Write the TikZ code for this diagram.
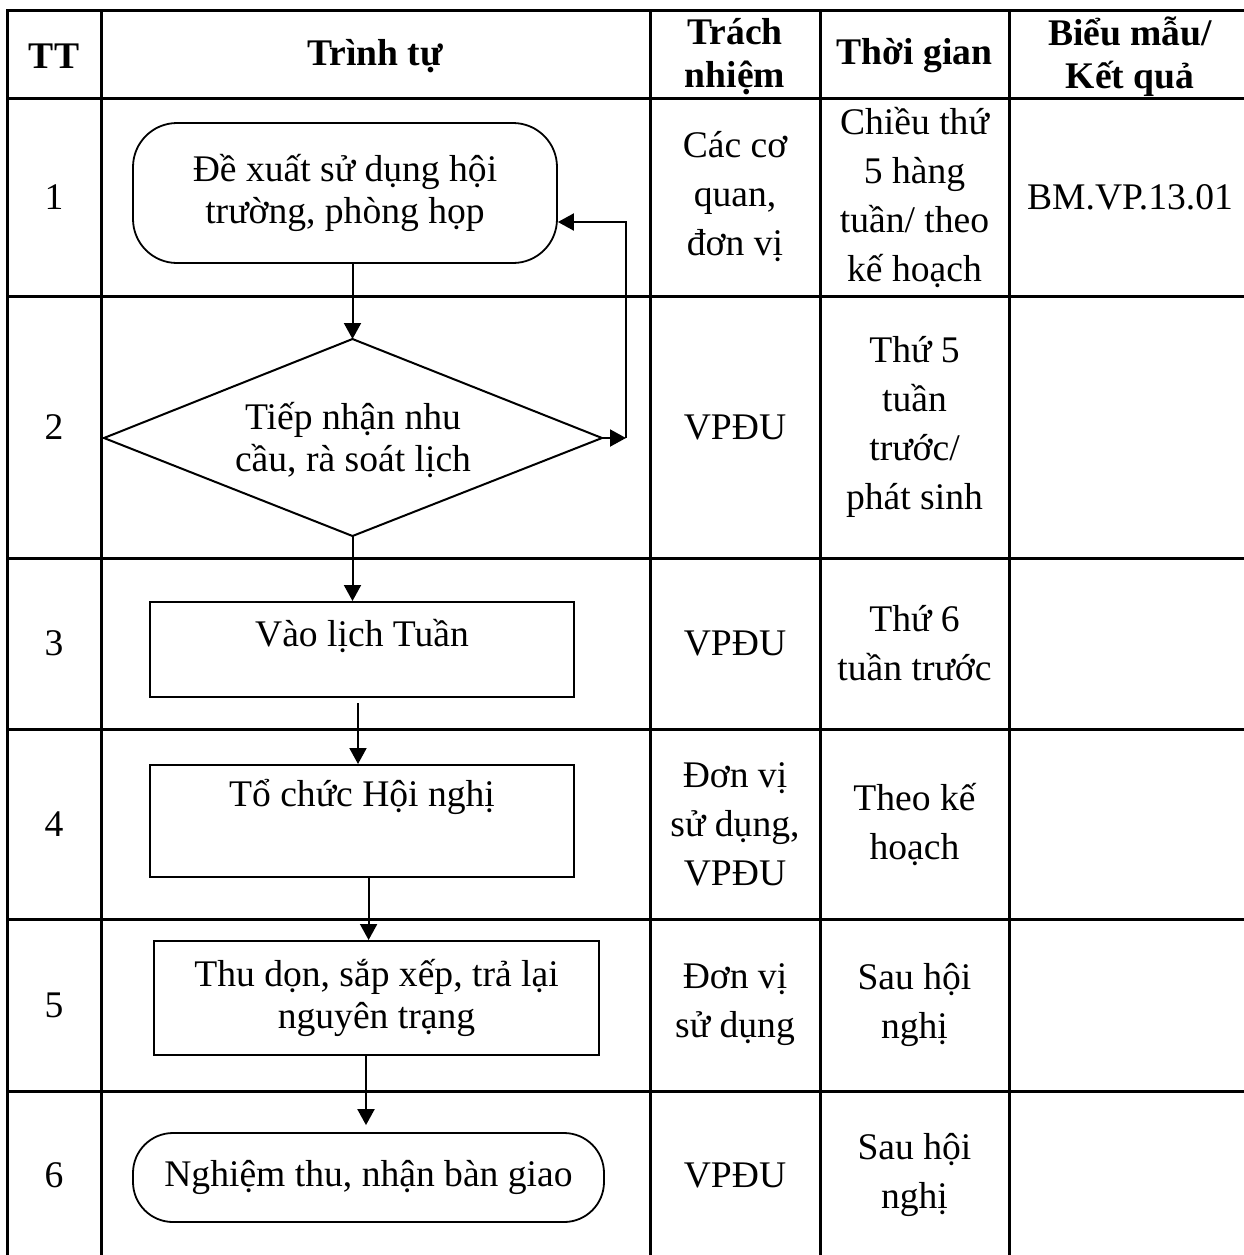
\documentclass[tikz,border=0pt]{standalone}
\usepackage{fontspec}
\setmainfont{Liberation Serif}
\usetikzlibrary{arrows.meta}
\begin{document}
\begin{tikzpicture}[x=0.5pt,y=-0.5pt,
  grid/.style={line width=1.5pt},
  cell/.style={align=center,font=\fontsize{18.8pt}{24.5pt}\selectfont,inner sep=0pt},
  head/.style={align=center,font=\bfseries\fontsize{18.8pt}{21.5pt}\selectfont,inner sep=0pt},
  boxtext/.style={align=center,font=\fontsize{18.8pt}{21pt}\selectfont,inner sep=0pt},
  proc/.style={draw,line width=1pt,inner sep=0pt,align=center,font=\fontsize{18.8pt}{21pt}\selectfont},
  term/.style={proc,line width=0.9pt},
  flow/.style={line width=1pt,-{Triangle[length=8pt,width=8.5pt]}},
]
\useasboundingbox (0,0) rectangle (1244,1255);
\clip (0,0) rectangle (1244,1255);
\fill[white] (0,0) rectangle (1244,1255);

% table grid
\foreach \yy in {10,98,296,558,729,919,1091}
  \draw[grid] (6,\yy) -- (1260,\yy);
\foreach \xx in {7,101,650,820,1009}
  \draw[grid] (\xx,9) -- (\xx,1270);

% header
\node[head] (hTT) at (54,56) {TT};
\node[head] (hTr) at (375,56) {Trình tự};
\node[head] (hTN) at (735,57) {Trách\\nhiệm};
\node[head] (hTG) at (914.5,56) {Thời gian};
\node[head] (hBM) at (1130,57) {Biểu mẫu/\\Kết quả};

% row numbers
\node[cell] (n1) at (54,197) {1};
\node[cell] (n2) at (54,427) {2};
\node[cell] (n3) at (54,643.5) {3};
\node[cell] (n4) at (54,824) {4};
\node[cell] (n5) at (54,1005) {5};
\node[cell] (n6) at (54,1175) {6};

% responsibility
\node[cell] (r1) at (735,197) {Các cơ\\quan,\\đơn vị};
\node[cell] (r2) at (735,427) {VPĐU};
\node[cell] (r3) at (735,643.5) {VPĐU};
\node[cell] (r4) at (735,824) {Đơn vị\\sử dụng,\\VPĐU};
\node[cell] (r5) at (735,1005) {Đơn vị\\sử dụng};
\node[cell] (r6) at (735,1175) {VPĐU};

% time
\node[cell] (t1) at (914.5,197) {Chiều thứ\\5 hàng\\tuần/ theo\\kế hoạch};
\node[cell] (t2) at (914.5,427) {Thứ 5\\tuần\\trước/\\phát sinh};
\node[cell] (t3) at (914.5,643.5) {Thứ 6\\tuần trước};
\node[cell] (t4) at (914.5,824) {Theo kế\\hoạch};
\node[cell] (t5) at (914.5,1005) {Sau hội\\nghị};
\node[cell] (t6) at (914.5,1175) {Sau hội\\nghị};

% form
\node[cell] (f1) at (1130,197) {BM.VP.13.01};

% flowchart shapes
\node[term,rounded corners=22pt,minimum width=212pt,minimum height=70pt] (b1) at (345,193) {Đề xuất sử dụng hội\\trường, phòng họp};

\coordinate (dT) at (352.5,339);
\coordinate (dR) at (602,438);
\coordinate (dB) at (352.5,536);
\coordinate (dL) at (104,438);
\draw[line width=1pt,line join=miter] (dT) -- (dR) -- (dB) -- (dL) -- cycle;
\node[boxtext] (dtext) at (353,440) {Tiếp nhận nhu\\cầu, rà soát lịch};

\node[proc,minimum width=212pt,minimum height=47.5pt] (b3) at (362,649.5) {};
\node[boxtext] (b3t) at (362,636) {Vào lịch Tuần};

\node[proc,minimum width=212pt,minimum height=56pt] (b4) at (362,821) {};
\node[boxtext] (b4t) at (362,797) {Tổ chức Hội nghị};

\node[proc,minimum width=222.5pt,minimum height=57pt] (b5) at (376.5,998) {Thu dọn, sắp xếp, trả lại\\nguyên trạng};

\node[term,rounded corners=20pt,minimum width=235.5pt,minimum height=44.5pt] (b6) at (368.5,1177.5) {Nghiệm thu, nhận bàn giao};

% connectors
\draw[flow] (b1.south -| dT) -- (dT);
\draw[flow] (dB) -- (dB |- b3.north);
\draw[flow] ([xshift=-2pt,yshift=-2.5pt]b3.south) -- ([xshift=-2pt]b4.north);
\draw[flow] ([xshift=3.3pt]b4.south) -- ([xshift=3.3pt]b4.south |- b5.north);
\draw[flow] ([xshift=-5.25pt]b5.south) -- ([xshift=-5.25pt,yshift=3.5pt]b5.south |- b6.north);

% feedback loop
\coordinate (fbR) at (626,438);
\coordinate (fbT) at (626,222);
\draw[flow] (dR) -- (fbR);
\draw[flow] (fbR) -- (fbT) -- (b1.east |- fbT);
\end{tikzpicture}
\end{document}
